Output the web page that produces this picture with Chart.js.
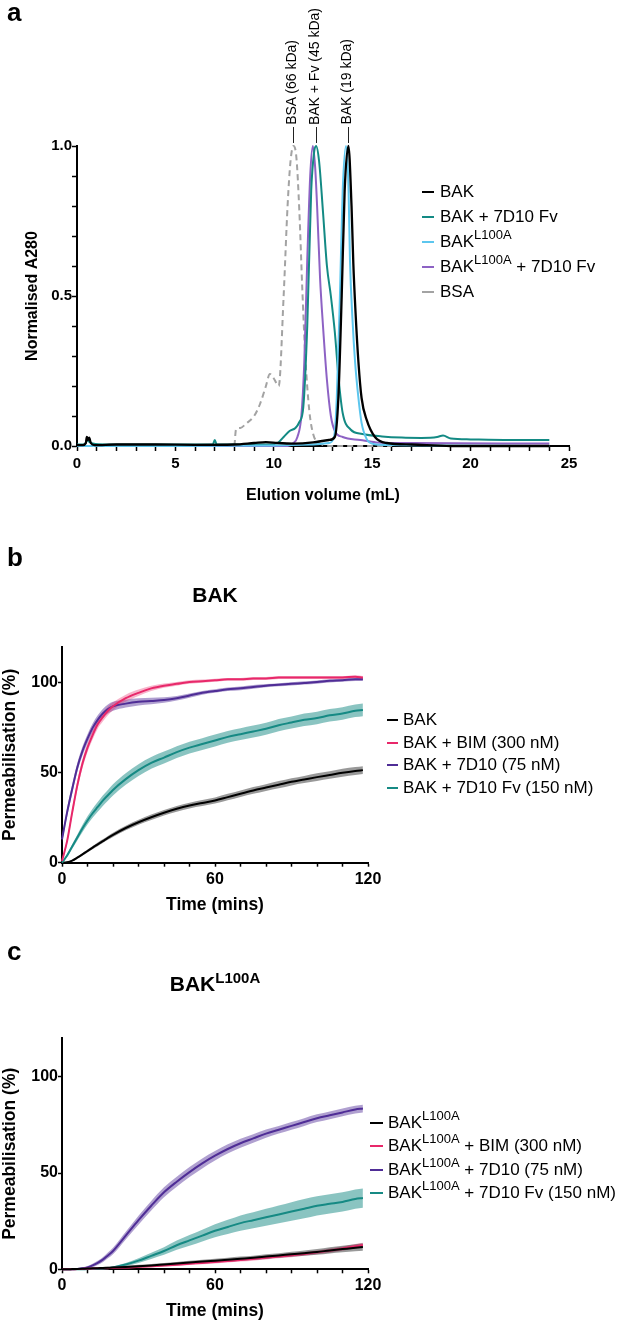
<!DOCTYPE html>
<html>
<head>
<meta charset="utf-8">
<script src="https://cdn.jsdelivr.net/npm/chart.js@4.4.1/dist/chart.umd.min.js"></script>
<style>
  body { margin: 0; background: #fff; }
  #page { position: relative; width: 630px; height: 1323px; overflow: hidden;
          font-family: 'Liberation Sans', Arial, sans-serif; color: #000; }
  canvas { position: absolute; left: 0; }
  .lab { position: absolute; left: 7px; font-weight: bold; font-size: 26px; line-height: 30px; }
  .leg { position: absolute; font-size: 17px; line-height: 20px; height: 20px; white-space: nowrap;
         display: flex; align-items: center; }
  .sw { display: inline-block; height: 0; border-top: 2px solid; }
  .sup { font-size: 13px; position: relative; top: -7px; }
  .ann { position: absolute; bottom: 1198px; writing-mode: vertical-rl; transform: rotate(180deg);
         font-size: 14px; line-height: 16px; white-space: nowrap; }
  .tk { position: absolute; top: 127px; width: 1px; height: 16px; background: #222; }
  .ttl { position: absolute; font-weight: bold; font-size: 21px; line-height: 24px;
         width: 200px; text-align: center; white-space: nowrap; }
  .ttl .sup { font-size: 15px; top: -8px; }
</style>
</head>
<body>
<div id="page">
  <canvas id="chartA" width="630" height="520" style="top:0"></canvas>
  <canvas id="chartB" width="630" height="400" style="top:520px"></canvas>
  <canvas id="chartC" width="630" height="403" style="top:920px"></canvas>

  <div class="lab" style="top:-3px">a</div>
  <div class="lab" style="top:542px">b</div>
  <div class="lab" style="top:936px">c</div>

  <!-- peak markers, panel a -->
  <div class="tk" style="left:293px"></div>
  <div class="tk" style="left:316px"></div>
  <div class="tk" style="left:348px"></div>
  <div class="ann" style="left:283px">BSA (66 kDa)</div>
  <div class="ann" style="left:306px">BAK + Fv (45 kDa)</div>
  <div class="ann" style="left:338px">BAK (19 kDa)</div>

  <!-- legend a -->
  <div class="leg" style="left:422px;top:182px"><span class="sw" style="width:12px;margin-right:6px;border-color:#000"></span>BAK</div>
  <div class="leg" style="left:422px;top:207px"><span class="sw" style="width:12px;margin-right:6px;border-color:#138a84"></span>BAK + 7D10 Fv</div>
  <div class="leg" style="left:422px;top:232px"><span class="sw" style="width:12px;margin-right:6px;border-color:#5cc6ee"></span>BAK<span class="sup">L100A</span></div>
  <div class="leg" style="left:422px;top:257px"><span class="sw" style="width:12px;margin-right:6px;border-color:#8d62c4"></span>BAK<span class="sup">L100A</span>&nbsp;+ 7D10 Fv</div>
  <div class="leg" style="left:422px;top:282px"><span class="sw" style="width:12px;margin-right:6px;border-top:2px dashed #a3a3a3"></span>BSA</div>

  <!-- panel b -->
  <div class="ttl" style="left:115px;top:583px">BAK</div>
  <div class="leg" style="left:387px;top:710px"><span class="sw" style="width:11px;margin-right:5px;border-color:#000"></span>BAK</div>
  <div class="leg" style="left:387px;top:733px"><span class="sw" style="width:11px;margin-right:5px;border-color:#e8286a"></span>BAK + BIM (300 nM)</div>
  <div class="leg" style="left:387px;top:755px"><span class="sw" style="width:11px;margin-right:5px;border-color:#4f2d96"></span>BAK + 7D10 (75 nM)</div>
  <div class="leg" style="left:387px;top:778px"><span class="sw" style="width:11px;margin-right:5px;border-color:#168a84"></span>BAK + 7D10 Fv (150 nM)</div>

  <!-- panel c -->
  <div class="ttl" style="left:115px;top:972px">BAK<span class="sup">L100A</span></div>
  <div class="leg" style="left:370px;top:1113px"><span class="sw" style="width:13px;margin-right:5px;border-color:#000"></span>BAK<span class="sup">L100A</span></div>
  <div class="leg" style="left:370px;top:1136px"><span class="sw" style="width:13px;margin-right:5px;border-color:#e8286a"></span>BAK<span class="sup">L100A</span>&nbsp;+ BIM (300 nM)</div>
  <div class="leg" style="left:370px;top:1160px"><span class="sw" style="width:13px;margin-right:5px;border-color:#4f2d96"></span>BAK<span class="sup">L100A</span>&nbsp;+ 7D10 (75 nM)</div>
  <div class="leg" style="left:370px;top:1183px"><span class="sw" style="width:13px;margin-right:5px;border-color:#168a84"></span>BAK<span class="sup">L100A</span>&nbsp;+ 7D10 Fv (150 nM)</div>
</div>

<script>
// ---- panel a: size exclusion traces (elution volume mL, normalised A280) ----
const bakVol = [0, 0.3, 0.45, 0.5, 0.55, 0.62, 0.7, 0.9, 2, 4, 6, 8, 9, 9.6, 10.2, 11, 12, 12.8, 13.1, 13.28, 13.45, 13.6, 13.79, 13.95, 14.04, 14.15, 14.3, 14.46, 14.72, 15.14, 15.74, 17, 19, 24];
const bakA280 = [0.003, 0.003, 0.01, 0.03, 0.02, 0.028, 0.01, 0.003, 0.005, 0.005, 0.004, 0.005, 0.01, 0.013, 0.01, 0.008, 0.012, 0.02, 0.03, 0.16, 0.5, 0.85, 1.0, 0.8, 0.61, 0.45, 0.28, 0.16, 0.087, 0.03, 0.01, 0.005, 0.0, 0.0];

const mutVol = [0, 5, 10, 12, 12.8, 13.06, 13.2, 13.36, 13.5, 13.67, 13.8, 13.87, 14.0, 14.13, 14.3, 14.46, 14.72, 15.05, 16, 24];
const mutA280 = [0.0, 0.0, 0.002, 0.005, 0.01, 0.03, 0.16, 0.5, 0.85, 1.0, 0.85, 0.62, 0.42, 0.28, 0.16, 0.077, 0.023, 0.007, 0.003, 0.0];

const bakFvVol = [0, 0.4, 0.5, 0.6, 0.8, 1.5, 3, 5, 6.9, 7.0, 7.1, 8, 9, 9.8, 10.2, 10.5, 10.8, 11.1, 11.3, 11.5, 11.7, 11.9, 12.05, 12.15, 12.3, 12.5, 12.7, 12.9, 13.1, 13.3, 13.5, 13.9, 14.5, 15.5, 16.5, 17.5, 18.3, 18.6, 19.0, 20, 22, 24];
const bakFvA280 = [0.005, 0.005, 0.02, 0.015, 0.008, 0.005, 0.005, 0.005, 0.005, 0.02, 0.005, 0.005, 0.005, 0.005, 0.01, 0.03, 0.05, 0.06, 0.08, 0.13, 0.4, 0.85, 0.98, 1.0, 0.95, 0.78, 0.6, 0.5, 0.38, 0.22, 0.11, 0.055, 0.04, 0.032, 0.028, 0.027, 0.03, 0.035, 0.025, 0.022, 0.02, 0.02];

const mutFvVol = [0, 5, 10, 10.7, 11.0, 11.2, 11.4, 11.55, 11.7, 11.85, 11.98, 12.1, 12.2, 12.35, 12.5, 12.7, 12.9, 13.1, 13.5, 14.4, 15.2, 17, 24];
const mutFvA280 = [0.0, 0.0, 0.0, 0.0, 0.01, 0.03, 0.1, 0.28, 0.62, 0.9, 1.0, 0.93, 0.8, 0.56, 0.4, 0.22, 0.1, 0.05, 0.03, 0.02, 0.012, 0.01, 0.008];

const bsaVol = [8.0, 8.08, 8.3, 8.6, 9.0, 9.3, 9.6, 9.8, 10.0, 10.25, 10.5, 10.7, 10.85, 11.0, 11.15, 11.3, 11.45, 11.6, 11.8, 12.0, 12.3, 13.0, 16.0];
const bsaA280 = [0.0, 0.055, 0.06, 0.075, 0.1, 0.14, 0.2, 0.24, 0.225, 0.2, 0.5, 0.8, 0.95, 1.0, 0.96, 0.78, 0.52, 0.3, 0.12, 0.04, 0.01, 0.0, 0.0];

// ---- panels b and c: permeabilisation (%) over time (mins), mean and spread ----
const times = [0, 2, 4, 6, 8, 10, 12, 14, 16, 18, 20, 25, 30, 35, 40, 45, 50, 55, 60, 65, 70, 75, 80, 85, 90, 95, 100, 105, 110, 115, 118];

const bakMean = [0, 0.3, 1.2, 2.8, 4.6, 6.5, 8.4, 10.2, 12, 13.8, 15.5, 19.3, 22.5, 25.3, 27.8, 30, 31.8, 33.2, 34.6, 36.5, 38.4, 40.2, 41.8, 43.4, 45, 46.3, 47.6, 48.8, 50, 51, 51.5];
const bakSd = [0, 0.3, 0.5, 0.6, 0.7, 0.8, 0.9, 1, 1, 1.1, 1.2, 1.3, 1.4, 1.5, 1.5, 1.6, 1.6, 1.7, 1.7, 1.8, 1.8, 1.9, 1.9, 2, 2, 2, 2.1, 2.1, 2.2, 2.2, 2.2];
const bimMean = [1, 12, 28, 43, 55, 64, 71, 77, 81, 84.5, 87, 91.5, 94.5, 97, 98.5, 99.5, 100.5, 101, 101.5, 102, 102, 102.5, 102.5, 103, 103, 103, 103, 103, 103, 103.5, 103];
const bimSd = [0.5, 1.5, 2, 2.5, 2.5, 2.5, 2.5, 2.5, 2.5, 2.5, 2.2, 2, 1.8, 1.5, 1.2, 1, 1, 0.9, 0.9, 0.8, 0.8, 0.8, 0.8, 0.8, 0.8, 0.8, 0.8, 0.8, 0.8, 0.8, 0.8];
const abMean = [13, 28, 41, 53, 62, 69, 75, 79.5, 83, 85.5, 87, 88.5, 89.5, 90, 90.5, 91.5, 93, 94.5, 95.5, 96.5, 97, 97.8, 98.5, 99, 99.5, 100, 100.5, 101.2, 101.5, 102, 102];
const abSd = [2, 2.5, 2.5, 2.5, 2.5, 2.5, 2.5, 2.5, 2.5, 2.5, 2.5, 2.2, 2, 1.8, 1.5, 1.3, 1.2, 1, 1, 1, 1, 1, 0.9, 0.9, 0.9, 0.9, 0.9, 0.9, 0.9, 0.9, 0.9];
const fvMean = [0, 4, 9, 14, 19, 23.5, 27.5, 31, 34.5, 37.5, 40.5, 46.5, 51.5, 55.5, 58.5, 61.5, 64, 66, 68, 70, 71.5, 73, 74.5, 76.5, 78, 79.5, 80.5, 82, 83, 84.5, 85];
const fvSd = [0, 0.8, 1.2, 1.6, 2, 2.3, 2.5, 2.7, 2.9, 3, 3.1, 3.2, 3.3, 3.3, 3.3, 3.3, 3.3, 3.3, 3.3, 3.3, 3.3, 3.3, 3.3, 3.4, 3.4, 3.5, 3.5, 3.5, 3.5, 3.5, 3.5];

const mutBakMean = [0, 0, 0.1, 0.2, 0.3, 0.4, 0.5, 0.6, 0.7, 0.8, 0.9, 1.2, 1.6, 2, 2.5, 3, 3.5, 4, 4.5, 5, 5.5, 6, 6.6, 7.2, 7.8, 8.4, 9, 9.8, 10.5, 11.2, 11.6];
const mutBakSd = [0, 0.1, 0.2, 0.3, 0.3, 0.4, 0.4, 0.5, 0.5, 0.5, 0.6, 0.6, 0.7, 0.7, 0.8, 0.8, 0.9, 0.9, 1, 1, 1.1, 1.1, 1.2, 1.2, 1.3, 1.4, 1.5, 1.6, 1.7, 1.8, 1.9];
const mutBimMean = [0, 0, 0, 0.1, 0.2, 0.3, 0.4, 0.5, 0.5, 0.6, 0.7, 0.9, 1.3, 1.6, 2, 2.4, 2.9, 3.3, 3.8, 4.3, 4.8, 5.4, 6, 6.6, 7.3, 8, 8.8, 9.7, 10.8, 12, 12.6];
const mutBimSd = [0, 0.1, 0.2, 0.3, 0.3, 0.3, 0.4, 0.4, 0.4, 0.5, 0.5, 0.5, 0.6, 0.6, 0.6, 0.7, 0.7, 0.7, 0.8, 0.8, 0.8, 0.9, 0.9, 0.9, 1, 1, 1, 1.1, 1.1, 1.2, 1.2];
const mutAbMean = [0, 0, 0, 0.2, 0.5, 1, 2, 3.3, 5, 7.2, 9.5, 17.5, 25.5, 33, 40, 45.5, 50.5, 55, 59, 62.5, 65.5, 68, 70.5, 72.5, 74.5, 76.5, 78.5, 80, 81.5, 83, 83.5];
const mutAbSd = [0, 0.1, 0.2, 0.3, 0.5, 0.7, 0.9, 1.1, 1.3, 1.5, 1.7, 2, 2.3, 2.5, 2.6, 2.6, 2.6, 2.6, 2.5, 2.4, 2.3, 2.2, 2.1, 2, 2, 2, 2, 2, 2, 2, 2];
const mutFvMean = [0, 0, 0, 0, 0, 0.1, 0.1, 0.2, 0.3, 0.6, 1, 2.5, 4.5, 7, 9.5, 12.5, 15, 17.5, 20, 22, 24, 25.5, 27, 28.5, 30, 31.5, 33, 34, 35, 36.5, 37];
const mutFvSd = [0, 0, 0, 0, 0, 0.1, 0.1, 0.2, 0.3, 0.4, 0.5, 0.8, 1.2, 1.6, 2, 2.4, 2.8, 3.1, 3.4, 3.7, 4, 4.2, 4.4, 4.6, 4.8, 5, 5, 5, 5, 5, 5];

const FONT = "'Liberation Sans', Arial, sans-serif";

function pts(xs, ys) {
  return xs.map((x, i) => ({x: x, y: ys[i]}));
}

function trace(xs, ys, color, extra) {
  return Object.assign({
    data: pts(xs, ys),
    borderColor: color,
    borderWidth: 2,
    pointRadius: 0,
    fill: false,
    cubicInterpolationMode: 'monotone',
    clip: false,
    order: 0
  }, extra || {});
}

// shaded spread = two datasets, the upper one fills down to the next one
function band(mean, sd, fillColor) {
  const hi = mean.map((m, i) => m + sd[i]);
  const lo = mean.map((m, i) => Math.max(0, m - sd[i]));
  return [
    trace(times, hi, 'rgba(0,0,0,0)', {borderWidth: 0, fill: '+1', backgroundColor: fillColor, order: 1}),
    trace(times, lo, 'rgba(0,0,0,0)', {borderWidth: 0, order: 1})
  ];
}

function xAxis(max, step, every, size, boxH, title, titleSize, titleBottom, tl, pad) {
  return {
    type: 'linear', min: 0, max: max,
    afterFit: s => { s.height = boxH; },
    ticks: {
      stepSize: step, autoSkip: false, maxRotation: 0, padding: pad, color: '#000',
      font: {family: FONT, size: size, weight: 'bold'},
      callback: v => (Math.abs(v % every) < 1e-9 ? String(v) : '')
    },
    grid: {drawOnChartArea: false, tickLength: tl, tickWidth: 1.5, tickColor: '#000'},
    border: {color: '#000', width: 2},
    title: {display: true, text: title, color: '#000',
            font: {family: FONT, size: titleSize, weight: 'bold'},
            padding: {top: 0, bottom: titleBottom}}
  };
}

function yAxis(max, step, fmt, size, boxW, title, titleSize, titleTop, tl) {
  return {
    min: 0, max: max,
    afterFit: s => { s.width = boxW; },
    ticks: {
      stepSize: step, includeBounds: false, padding: 0, color: '#000',
      font: {family: FONT, size: size, weight: 'bold'},
      callback: fmt
    },
    grid: {drawOnChartArea: false, tickLength: tl, tickWidth: 1.5, tickColor: '#000'},
    border: {color: '#000', width: 2},
    title: {display: true, text: title, color: '#000',
            font: {family: FONT, size: titleSize, weight: 'bold'},
            padding: {top: titleTop, bottom: 0}}
  };
}

const base = {
  responsive: false,
  animation: false,
  events: [],
  plugins: {legend: {display: false}, tooltip: {enabled: false}}
};

// panel a
new Chart(document.getElementById('chartA'), {
  type: 'line',
  data: {
    datasets: [
      trace(bakVol, bakA280, '#000000', {borderWidth: 2.3}),
      trace(mutVol, mutA280, '#5cc6ee'),
      trace(bakFvVol, bakFvA280, '#138a84'),
      trace(mutFvVol, mutFvA280, '#8d62c4'),
      trace(bsaVol, bsaA280, '#a3a3a3', {borderDash: [6, 4]})
    ]
  },
  options: Object.assign({}, base, {
    layout: {padding: {left: 0, right: 61, top: 146, bottom: 0}},
    scales: {
      x: xAxis(25, 1, 5, 15, 74, 'Elution volume (mL)', 16, 14.4, 5, 4),
      y: yAxis(1, 0.1, v => (Math.round(v * 10) % 5 === 0 ? v.toFixed(1) : ''), 15, 77,
               'Normalised A280', 16, 23, 5)
    }
  })
});

// panel b
new Chart(document.getElementById('chartB'), {
  type: 'line',
  data: {
    datasets: [
      trace(times, bimMean, '#e8286a'),
      trace(times, abMean, '#4f2d96'),
      trace(times, fvMean, '#168a84'),
      trace(times, bakMean, '#000000'),
      ...band(bimMean, bimSd, 'rgba(232,40,106,0.35)'),
      ...band(abMean, abSd, 'rgba(79,45,150,0.45)'),
      ...band(fvMean, fvSd, 'rgba(22,138,132,0.5)'),
      ...band(bakMean, bakSd, 'rgba(0,0,0,0.4)')
    ]
  },
  options: Object.assign({}, base, {
    layout: {padding: {left: 0, right: 262, top: 127, bottom: 0}},
    scales: {
      x: xAxis(120, 10, 60, 16, 57.3, 'Time (mins)', 17.5, 4.5, 4, 3),
      y: yAxis(120, 50, v => String(v), 16, 62, 'Permeabilisation (%)', 17.5, 0, 4)
    }
  })
});

// panel c
new Chart(document.getElementById('chartC'), {
  type: 'line',
  data: {
    datasets: [
      trace(times, mutBakMean, '#000000'),
      trace(times, mutBimMean, '#e8286a'),
      trace(times, mutAbMean, '#4f2d96'),
      trace(times, mutFvMean, '#168a84'),
      ...band(mutBakMean, mutBakSd, 'rgba(0,0,0,0.4)'),
      ...band(mutBimMean, mutBimSd, 'rgba(232,40,106,0.35)'),
      ...band(mutAbMean, mutAbSd, 'rgba(79,45,150,0.45)'),
      ...band(mutFvMean, mutFvSd, 'rgba(22,138,132,0.5)')
    ]
  },
  options: Object.assign({}, base, {
    layout: {padding: {left: 0, right: 262, top: 118.3, bottom: 0}},
    scales: {
      x: xAxis(120, 10, 60, 16, 53.7, 'Time (mins)', 17.5, 1.5, 4, 3),
      y: yAxis(120, 50, v => String(v), 16, 62, 'Permeabilisation (%)', 17.5, 0, 4)
    }
  })
});
</script>
</body>
</html>
